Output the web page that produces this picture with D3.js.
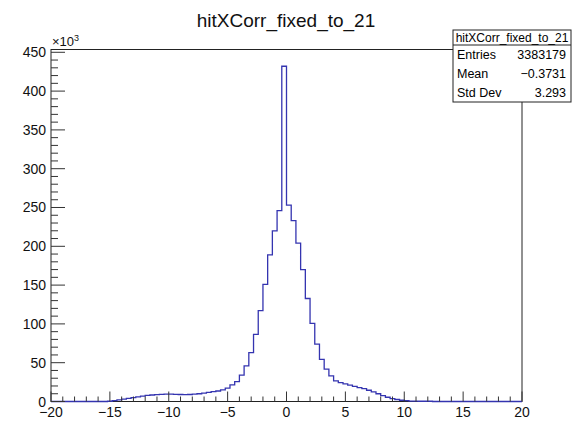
<!DOCTYPE html>
<html>
<head>
<meta charset="utf-8">
<script src="https://cdn.jsdelivr.net/npm/d3@7"></script>
<style>
  body { margin: 0; background: #fff; }
  svg { font-family: "Liberation Sans", Arial, Helvetica, sans-serif; }
</style>
</head>
<body>
<svg id="chart" width="572" height="421"></svg>
<script>
(function() {
  // histogram: 100 bins from -20 to 20, contents in units of 10^3
  var xRange = [-20, 20];
  var counts = [
    0, 0, 0, 0, 0, 0, 0, 0, 0, 0, 0, 0,
    0.3, 1.0, 2.0, 3.0, 4.0, 5.0, 6.0, 7.0, 7.8, 8.4,
    8.9, 9.2, 9.4, 9.4, 9.2, 9.0, 8.9, 9.0, 9.4, 10.0,
    10.8, 11.8, 12.8, 13.5, 15.0, 17.2, 21.4, 25.7, 34, 46,
    63, 86.5, 117, 151, 189, 220, 246, 432, 253, 233,
    204, 170, 132.7, 100.6, 74, 54.4, 41.6, 33, 26.6, 24.4,
    22.8, 21, 19.5, 18, 16.5, 14.5, 12.5, 10, 7.5, 5.5,
    3.8, 2.6, 1.6, 1.0, 0.6, 0.4, 0.3, 0.3, 0.3,
    0, 0, 0, 0, 0, 0, 0, 0, 0, 0, 0, 0, 0, 0, 0, 0, 0, 0, 0
  ];
  var xTicks = [-20, -15, -10, -5, 0, 5, 10, 15, 20];
  var yTicks = [0, 50, 100, 150, 200, 250, 300, 350, 400, 450];
  var yMax = 453.6;
  var title = "hitXCorr_fixed_to_21";
  var statNames = ["Entries", "Mean", "Std Dev"];
  var statValues = ["3383179", "\u22120.3731", "3.293"];

  var FRAME = { LEFT: 51, RIGHT: 522, TOP: 49.5, BOTTOM: 401.5 };
  var svg = d3.select("svg#chart");

  var x = d3.scaleLinear().domain(xRange).range([FRAME.LEFT, FRAME.RIGHT]);
  var y = d3.scaleLinear().domain([0, yMax]).range([FRAME.BOTTOM, FRAME.TOP]);

  var nBins = counts.length;
  var binW = (xRange[1] - xRange[0]) / nBins;
  var edge = function(i) { return xRange[0] + i * binW; };

  // frame
  svg.append("rect").attr("x", FRAME.LEFT).attr("y", FRAME.TOP)
    .attr("width", FRAME.RIGHT - FRAME.LEFT).attr("height", FRAME.BOTTOM - FRAME.TOP)
    .style("fill", "none").style("stroke", "#222").style("stroke-width", 1);

  // step outline
  var pts = [];
  counts.forEach(function(c, i) {
    pts.push([x(edge(i)), y(c)]);
    pts.push([x(edge(i + 1)), y(c)]);
  });
  svg.append("path").attr("d", d3.line()(pts))
    .style("fill", "none").style("stroke", "#3434b0").style("stroke-width", 1.3);

  // x axis ticks
  var xMinor = d3.range(xRange[0], xRange[1] + 1, 1);
  svg.selectAll("line.xminor").data(xMinor).enter().append("line")
    .attr("x1", x).attr("x2", x)
    .attr("y1", FRAME.BOTTOM).attr("y2", function(d) { return FRAME.BOTTOM - (d % 5 === 0 ? 10 : 5); })
    .style("stroke", "#333").style("stroke-width", 1);
  svg.selectAll("text.xlab").data(xTicks).enter().append("text")
    .attr("x", x).attr("y", 417)
    .attr("text-anchor", "middle").style("font-size", "14px").style("fill", "#111")
    .text(function(d) { return d < 0 ? "\u2212" + (-d) : d; });

  // y axis ticks
  var yMinor = d3.range(0, 451, 10);
  svg.selectAll("line.yminor").data(yMinor).enter().append("line")
    .attr("x1", FRAME.LEFT).attr("x2", function(d) { return FRAME.LEFT + (d % 50 === 0 ? 14 : 7); })
    .attr("y1", y).attr("y2", y)
    .style("stroke", "#333").style("stroke-width", 1);
  svg.selectAll("text.ylab").data(yTicks).enter().append("text")
    .attr("x", 46).attr("y", function(d) { return y(d) + 5; })
    .attr("text-anchor", "end").style("font-size", "14px").style("fill", "#111")
    .text(function(d) { return d; });

  var exp = svg.append("text").attr("x", 52).attr("y", 46).style("font-size", "13px").style("fill", "#111");
  exp.append("tspan").text("\u00d710");
  exp.append("tspan").attr("dy", -5).style("font-size", "9px").text("3");

  // title
  svg.append("text").attr("x", 286).attr("y", 27).attr("text-anchor", "middle")
    .style("font-size", "19px").style("fill", "#111").text(title);

  // stats box
  var box = { X: 453, Y: 30, W: 118, TH: 15, RH: 19 };
  var boxH = box.TH + statNames.length * box.RH;
  svg.append("rect").attr("x", box.X).attr("y", box.Y).attr("width", box.W).attr("height", boxH)
    .style("fill", "#fff").style("stroke", "#222").style("stroke-width", 1);
  svg.append("line").attr("x1", box.X).attr("x2", box.X + box.W)
    .attr("y1", box.Y + box.TH).attr("y2", box.Y + box.TH)
    .style("stroke", "#222").style("stroke-width", 1);
  svg.append("text").attr("x", box.X + box.W / 2).attr("y", box.Y + 12)
    .attr("text-anchor", "middle").style("font-size", "12px").text(title);
  svg.selectAll("text.sname").data(statNames).enter().append("text")
    .attr("x", box.X + 4).attr("y", function(d, i) { return box.Y + box.TH + i * box.RH + 14; })
    .style("font-size", "12.5px").text(function(d) { return d; });
  svg.selectAll("text.sval").data(statValues).enter().append("text")
    .attr("x", box.X + box.W - 5).attr("y", function(d, i) { return box.Y + box.TH + i * box.RH + 14; })
    .attr("text-anchor", "end").style("font-size", "12.5px").text(function(d) { return d; });
})();
</script>
</body>
</html>
